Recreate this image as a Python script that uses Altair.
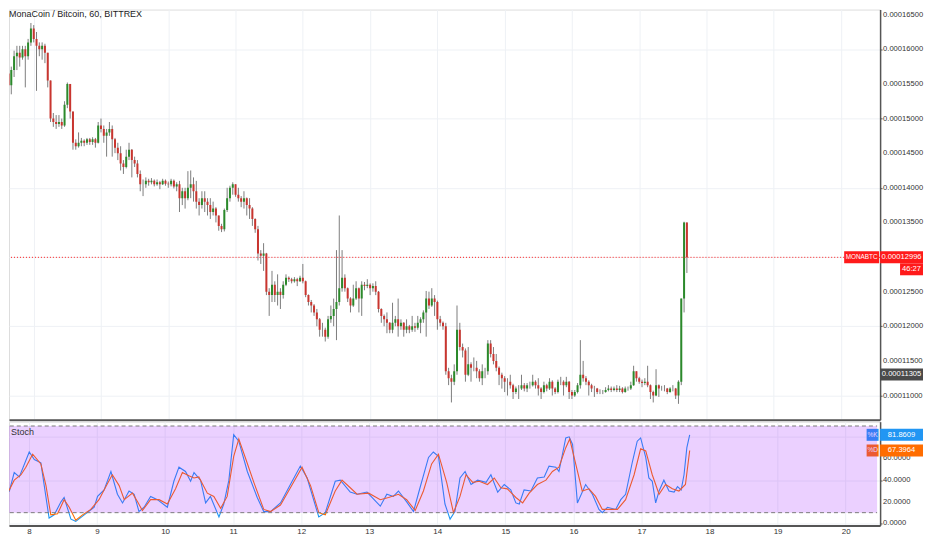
import altair as alt
import pandas as pd

# ---------------- data ----------------
TITLE = "MonaCoin / Bitcoin, 60, BITTREX"
first_hour = -9          # hours relative to day 8, 00:00
first_open = 15650       # satoshi
close = [
    15480, 15700, 15900, 15950, 15880, 16000, 15900, 16100, 16300,
    16150, 16050, 16000, 16050, 15950, 15550, 15000, 14950, 14920, 14950, 14900, 15200,
    15500, 15100, 14650, 14600, 14650, 14680, 14650, 14700, 14660, 14700, 14650, 14900,
    14850, 14750, 14800, 14850, 14700, 14580, 14500, 14350, 14300, 14450, 14550, 14400,
    14350, 14200, 14050, 14050, 14100, 14080, 14100, 14050, 14080, 14050, 14100, 14060,
    14050, 14100, 14020, 14050, 13850, 13950, 13850, 14000, 14050, 13950, 13800, 13750,
    13850, 13800, 13750, 13650, 13700, 13600, 13450, 13400, 13680, 13850, 14000, 14050,
    13900, 13850, 13800, 13850, 13750, 13700, 13550, 13400, 13050, 13020, 13050, 12500,
    12450, 12600, 12450, 12500, 12450, 12600, 12700, 12680, 12650, 12680, 12650, 12700,
    12650, 12450, 12350, 12300, 12200, 12100, 11950, 11950, 11850, 12100, 12150, 12250,
    12350, 12550, 12700, 12550, 12400, 12300, 12400, 12550, 12400, 12600, 12580, 12600,
    12550, 12580, 12500, 12250, 12150, 12100, 12050, 11950, 12050, 12100, 12000, 12050,
    11950, 12000, 11950, 12000, 11980, 12050, 12100, 12200, 12400, 12300, 12400, 12350,
    12100, 12050, 12000, 11350, 11250, 11200, 11350, 11950, 11700, 11650, 11300, 11450,
    11400, 11400, 11350, 11250, 11350, 11350, 11750, 11600, 11500, 11400, 11300, 11250,
    11200, 11200, 11150, 11050, 11100, 11100, 11150, 11100, 11150, 11150, 11200, 11150,
    11100, 11050, 11150, 11100, 11200, 11100, 11050, 11200, 11200, 11150, 11200, 11050,
    11000, 11050, 11150, 11300, 11250, 11200, 11150, 11100, 11100, 11050, 11050, 11050,
    11080, 11100, 11080, 11100, 11080, 11100, 11050, 11100, 11100, 11150, 11350, 11250,
    11200, 11180, 11200, 11150, 11050, 11000, 11150, 11100, 11100, 11100, 11050, 11100,
    11100, 11000, 11200, 12400, 13500, 12996,
]
high = [
    15650, 15750, 15980, 16050, 16050, 16050, 16050, 16150, 16380,
    16350, 16250, 16100, 16100, 16080, 15950, 15550, 15080, 15050, 15050, 15000, 15250,
    15520, 15500, 15100, 14700, 14800, 14720, 14700, 14720, 14720, 14730, 14720, 14950,
    15000, 14900, 14850, 14950, 14900, 14720, 14650, 14600, 14400, 14550, 14650, 14560,
    14450, 14400, 14250, 14120, 14150, 14130, 14140, 14120, 14120, 14100, 14130, 14120,
    14090, 14130, 14120, 14080, 14100, 14000, 14000, 14240, 14250, 14150, 14100, 13850,
    13950, 13950, 13850, 13850, 13800, 13720, 13600, 13480, 13700, 14000, 14030, 14080,
    14050, 14000, 13880, 13950, 13860, 13850, 13720, 13560, 13450, 13100, 13200, 13060,
    12550, 12800, 12650, 12750, 12550, 12650, 12750, 12720, 12700, 12710, 12700, 12730,
    12900, 12660, 12460, 12380, 12320, 12250, 12120, 12050, 11980, 12150, 12300, 12400,
    13100, 13600, 13100, 12750, 12560, 12420, 12600, 12650, 12560, 12650, 12640, 12680,
    12620, 12620, 12650, 12510, 12260, 12170, 12200, 12060, 12340, 12150, 12400, 12100,
    12060, 12100, 12020, 12150, 12050, 12150, 12130, 12230, 12510, 12500, 12550, 12450,
    12370, 12150, 12070, 12050, 11400, 11300, 11450, 12300, 12050, 11750, 11680, 11700,
    11480, 11550, 11500, 11380, 11450, 11400, 11800, 11800, 11700, 11600, 11420, 11330,
    11280, 11250, 11300, 11170, 11130, 11150, 11300, 11180, 11180, 11200, 11300, 11220,
    11250, 11120, 11200, 11170, 11250, 11220, 11120, 11230, 11270, 11220, 11270, 11210,
    11080, 11080, 11180, 11800, 11500, 11280, 11220, 11170, 11140, 11110, 11090, 11080,
    11120, 11150, 11130, 11130, 11150, 11140, 11120, 11130, 11130, 11200, 11430, 11350,
    11270, 11230, 11250, 11430, 11160, 11070, 11380, 11160, 11140, 11150, 11110, 11120,
    11150, 11110, 11220, 12400, 13510, 13500,
]
low = [
    15380, 15350, 15600, 15700, 15750, 15850, 15450, 15850, 16050,
    16100, 15400, 15900, 15850, 15800, 15450, 14950, 14880, 14850, 14880, 14850, 14880,
    15150, 15000, 14550, 14550, 14580, 14600, 14600, 14620, 14620, 14620, 14580, 14640,
    14800, 14650, 14450, 14750, 14450, 14500, 14400, 14250, 14200, 14280, 14400, 14150,
    14300, 14150, 13950, 13880, 14000, 14030, 14050, 14020, 14030, 13980, 14040, 14030,
    14000, 14020, 13990, 13950, 13650, 13750, 13700, 13820, 13850, 13800, 13700, 13600,
    13700, 13650, 13600, 13550, 13600, 13500, 13380, 13360, 13370, 13650, 13800, 13900,
    13870, 13800, 13720, 13700, 13600, 13550, 13450, 13350, 12950, 12900, 12800, 12450,
    12150, 12350, 12350, 12300, 12250, 12400, 12580, 12640, 12620, 12630, 12580, 12640,
    12620, 12420, 12300, 12200, 12150, 12000, 11850, 11850, 11780, 11820, 12050, 12000,
    11800, 12300, 12500, 12500, 12350, 12200, 12280, 12380, 12200, 12150, 12520, 12550,
    12450, 12500, 12450, 12200, 12050, 12000, 11900, 11900, 11900, 12000, 11850, 11950,
    11850, 11900, 11900, 11920, 11920, 11950, 11900, 12050, 11850, 12250, 12280, 12150,
    11950, 12000, 11950, 11300, 11150, 10900, 11150, 11300, 11650, 11550, 11200, 11280,
    11200, 11350, 11250, 11200, 11150, 11250, 11300, 11550, 11450, 11350, 11150, 11100,
    11050, 11000, 11100, 10950, 11020, 10950, 11080, 11060, 11050, 11100, 11130, 11100,
    11000, 10950, 11030, 11060, 11080, 11000, 11020, 11030, 11150, 11000, 11120, 10950,
    10950, 10980, 11030, 11100, 11200, 11150, 11000, 11050, 10980, 11020, 11020, 11020,
    11040, 11060, 11050, 11060, 11050, 11050, 11030, 11040, 11070, 11080, 11140, 11200,
    11170, 11120, 11150, 11120, 10950, 10900, 10990, 10980, 11070, 11060, 11020, 11040,
    11060, 10950, 10880, 11150, 12200, 12770,
]
last_price = 12996
marker_price = 11305
countdown = "46:27"

# stochastic (hours relative to day 8 00:00, values)
k_hours = [-9.85, -8.7, -6.9, -5.2, -3.4, 0.1, 1.9, 4.2, 7.1, 8.9, 11.3, 12.4, 14.8, 16.5, 19.5,
           23.0, 24.2, 26.5, 28.9, 31.2, 33.0, 35.3, 37.1, 38.8, 40.6, 42.9, 45.3, 48.8, 51.1, 52.9,
           55.2, 57.0, 58.2, 60.5, 62.3, 64.0, 67.0, 68.7, 70.5, 72.2, 74.0, 77.0, 80.5, 82.8, 85.2,
           88.7, 92.2, 95.7, 98.1, 102.2, 104.5, 108.0, 109.8, 113.3, 115.7, 119.2, 123.9, 126.2,
           128.5, 130.3, 133.2, 135.6, 137.9, 140.9, 142.6, 144.4, 146.7, 148.5, 150.2, 152.0,
           153.8, 155.9, 158.2, 161.2, 162.9, 165.3, 167.6, 169.9, 171.7, 172.9, 174.6, 177.0,
           179.3, 181.7, 183.4, 185.8, 186.9, 189.3, 190.5, 191.7, 193.4, 196.3, 198.7, 201.0,
           202.2, 204.0, 206.9, 208.7, 210.4, 212.8, 214.5, 215.7, 217.5, 218.6, 219.8, 221.0,
           222.2, 223.9, 225.7, 227.5, 228.7, 230.0, 231.0, 232.0, 233.0]
k_vals = [54, 25, 30, 47, 43, 66, 59, 56, 5, 8, 20, 24, 4, 2, 8,
          15, 25, 31, 48, 27, 19, 30, 27, 11, 15, 25, 22, 15, 39, 52,
          48, 39, 47, 40, 19, 25, 6, 18, 40, 82, 76, 48, 24, 11, 11,
          19, 36, 53, 42, 6, 10, 39, 40, 29, 27, 29, 16, 27,
          25, 30, 20, 11, 33, 61, 66, 62, 18, 4, 11, 42,
          48, 36, 40, 38, 45, 29, 36, 31, 19, 18, 31, 30,
          42, 43, 53, 52, 48, 79, 80, 73, 19, 36, 27, 13,
          10, 15, 13, 22, 27, 57, 76, 79, 61, 42, 39, 19,
          30, 40, 30, 29, 34, 31, 45, 70, 81.8609]
d_hours = [-9.85, -7.5, -5.2, -2.8, -1.1, 1.3, 4.2, 6.0, 7.7, 10.1, 12.4, 14.2, 16.5, 18.9, 21.8,
           24.7, 27.7, 29.4, 31.8, 33.6, 36.5, 38.3, 40.0, 42.9, 45.9, 48.8, 51.7, 54.1, 56.4, 58.2,
           59.9, 62.9, 65.2, 67.6, 69.9, 72.2, 74.0, 76.4, 79.3, 82.8, 85.2, 88.7, 92.2, 96.3, 99.3,
           102.2, 104.5, 108.0, 110.4, 113.3, 115.7, 119.8, 123.9, 126.8, 130.3, 133.2, 136.2,
           139.1, 142.0, 144.4, 147.3, 149.7, 152.0, 154.1, 156.5, 158.8, 161.7, 164.1, 166.4,
           168.7, 171.7, 174.1, 176.4, 179.3, 182.3, 184.6, 186.9, 189.3, 190.7, 192.8, 195.1,
           197.5, 199.8, 202.2, 204.6, 207.5, 210.4, 213.4, 215.7, 217.5, 219.8, 222.2, 224.5,
           226.9, 229.2, 231.5, 233.0]
d_vals = [50, 28, 40, 45, 52, 64, 55, 35, 8, 9, 22, 15, 3, 8, 13,
          22, 37, 45, 35, 22, 28, 20, 12, 22, 22, 18, 32, 47, 44, 42,
          43, 28, 25, 14, 25, 62, 78, 60, 38, 13, 11, 17, 33, 52, 35,
          10, 8, 30, 40, 33, 27, 28, 22, 24, 27, 22, 12,
          30, 55, 64, 38, 10, 25, 45, 38, 39, 36, 42, 33,
          32, 24, 19, 28, 36, 40, 48, 52, 70, 78, 55, 30,
          32, 25, 13, 13, 13, 22, 45, 69, 67, 45, 27, 36,
          32, 30, 36, 67.3964]

day_ticks = list(range(8, 21))
price_ticks = [11000 + 500 * i for i in range(12)]
price_hidden = [13000]        # label covered by the last-price tag
stoch_ticks = [0, 20, 40, 60, 80]
stoch_hidden = [80]           # label covered by the %K tag
band_low, band_high = 10, 90

# ---------------- build tables ----------------
SAT = 1e-8
hours = list(range(first_hour, first_hour + len(close)))
opens = [first_open] + close[:-1]
df = pd.DataFrame({
    "t": [8 + h / 24 for h in hours],
    "o": [v * SAT for v in opens],
    "c": [v * SAT for v in close],
    "hi": [max(h_, o, c) * SAT for h_, o, c in zip(high, opens, close)],
    "lo": [min(l_, o, c) * SAT for l_, o, c in zip(low, opens, close)],
    "dir": ["up" if c >= o else "down" for o, c in zip(opens, close)],
})
kdf = pd.DataFrame({"t": [8 + h / 24 for h in k_hours], "v": k_vals})
ddf = pd.DataFrame({"t": [8 + h / 24 for h in d_hours], "v": d_vals})
shown_p = [v for v in price_ticks if v not in price_hidden]
ptick_df = pd.DataFrame({"p": [v * SAT for v in shown_p],
                         "txt": [f"{v * SAT:.8f}" for v in shown_p]})
shown_s = [v for v in stoch_ticks if v not in stoch_hidden]
stick_df = pd.DataFrame({"v": shown_s, "txt": [f"{v:.4f}" for v in shown_s]})

FONT = "Liberation Sans, Arial, sans-serif"
LBL = 7.6
W = 873
H_MAIN = 411
H_ST = 104
X_DOM = [7.7067, 20.5060]
BAND_END = 20.462
xs = alt.Scale(domain=X_DOM, nice=False, zero=False)
ys = alt.Scale(domain=[0.000106512, 0.000165737], nice=False, zero=False)
ss = alt.Scale(domain=[-1.8, 94.0], nice=False, zero=False)
GRID = "#eef1f5"
AXC = "#555555"
TXT = "#333333"
UP, DOWN = "#2b8a2b", "#c9352f"
KC, DC = "#2196f3", "#ff6d00"
RED = "#ff1a1a"

x_main_axis = alt.Axis(values=day_ticks, grid=True, gridColor=GRID, labels=False, ticks=False,
                       domain=True, domainColor=AXC, domainWidth=2, title=None)
y_main_axis = alt.Axis(orient="right", values=[p * SAT for p in price_ticks], labels=False,
                       grid=True, gridColor=GRID, tickColor=AXC, tickSize=2,
                       domainColor=AXC, domainWidth=1.5, title=None)

base = alt.Chart(df)
wicks = base.mark_rule(color="#7d7d7d", strokeWidth=1, clip=True).encode(
    x=alt.X("t:Q", scale=xs, axis=x_main_axis),
    y=alt.Y("lo:Q", scale=ys, axis=y_main_axis),
    y2="hi:Q",
)
bodies_up = base.transform_filter(alt.datum.dir == "up").mark_bar(width=2, clip=True, color=UP).encode(
    x=alt.X("t:Q", scale=xs), y=alt.Y("o:Q", scale=ys), y2="c:Q")
bodies_dn = base.transform_filter(alt.datum.dir == "down").mark_bar(width=2, clip=True, color=DOWN).encode(
    x=alt.X("t:Q", scale=xs), y=alt.Y("o:Q", scale=ys), y2="c:Q")

lp = pd.DataFrame({"p": [last_price * SAT], "txt": [f"{last_price * SAT:.8f}"], "name": ["MONABTC"], "cd": [countdown]})
mp = pd.DataFrame({"p": [marker_price * SAT], "txt": [f"{marker_price * SAT:.8f}"]})


def box(data, field, scale, xc, w, color, y_off=0):
    return alt.Chart(data).mark_tick(orient="horizontal", size=w, thickness=12, color=color,
                                     opacity=1, yOffset=y_off).encode(
        x=alt.value(xc), y=alt.Y(f"{field}:Q", scale=scale))


def label(data, field, scale, xc, text, size=LBL, y_off=0):
    return alt.Chart(data).mark_text(color="white", font=FONT, fontSize=size, yOffset=y_off).encode(
        x=alt.value(xc), y=alt.Y(f"{field}:Q", scale=scale), text=f"{text}:N")


def tick_labels(data, field, scale):
    return alt.Chart(data).mark_text(align="left", baseline="middle", font=FONT, fontSize=LBL,
                                     color=TXT).encode(
        x=alt.value(W + 3), y=alt.Y(f"{field}:Q", scale=scale), text="txt:N")


price_line = alt.Chart(lp).mark_rule(color=RED, strokeDash=[1, 2], strokeWidth=1).encode(
    y=alt.Y("p:Q", scale=ys))
title = alt.Chart(pd.DataFrame({"txt": [TITLE]})).mark_text(
    align="left", baseline="top", font=FONT, fontSize=9, color="#222222").encode(
    x=alt.value(0), y=alt.value(0), text="txt:N")

RB = W + 21.5   # centre of the boxes on the price scale
main = alt.layer(
    wicks, bodies_up, bodies_dn, price_line, tick_labels(ptick_df, "p", ys),
    box(lp, "p", ys, W - 18.5, 35, RED), label(lp, "p", ys, W - 18.5, "name", size=6.4),
    box(lp, "p", ys, RB, 43, RED), label(lp, "p", ys, RB, "txt"),
    box(lp, "p", ys, W + 31.5, 23, RED, 12), label(lp, "p", ys, W + 31.5, "cd", y_off=12),
    box(mp, "p", ys, RB, 43, "#4a4a4a"), label(mp, "p", ys, RB, "txt"),
    title,
).properties(width=W, height=H_MAIN)

# ---------------- stochastic panel ----------------
x_st_axis = alt.Axis(values=day_ticks, format="d", grid=True, gridColor=GRID, ticks=False,
                     domain=True, domainColor=AXC, domainWidth=2, labelFont=FONT, labelFontSize=8,
                     labelColor=TXT, labelPadding=2, labelOverlap=False, title=None)
y_st_axis = alt.Axis(orient="right", values=stoch_ticks, labels=False, grid=True, gridColor=GRID,
                     tickColor=AXC, tickSize=2, domainColor=AXC, domainWidth=1.5, title=None)

k_line = alt.Chart(kdf).mark_line(strokeWidth=1.1, clip=True, color=KC).encode(
    x=alt.X("t:Q", scale=xs, axis=x_st_axis),
    y=alt.Y("v:Q", scale=ss, axis=y_st_axis),
)
d_line = alt.Chart(ddf).mark_line(strokeWidth=1.1, clip=True, color=DC).encode(
    x=alt.X("t:Q", scale=xs), y=alt.Y("v:Q", scale=ss))

last_k = k_vals[-1]
last_d = d_vals[-1]
kl = pd.DataFrame({"v": [last_k], "s": ["%K"], "txt": [f"{last_k:.4f}"]})
dl = pd.DataFrame({"v": [last_d], "s": ["%D"], "txt": [f"{last_d:.4f}"]})

band_df = pd.DataFrame({"x1": [7.0], "x2": [BAND_END], "y1": [band_low], "y2": [band_high]})
band = alt.Chart(band_df).mark_rect(color="#9915ff", opacity=0.2, clip=True).encode(
    x=alt.X("x1:Q", scale=xs), x2="x2:Q", y=alt.Y("y1:Q", scale=ss), y2="y2:Q")
dash_df = pd.DataFrame({"x1": [7.0, 7.0], "x2": [BAND_END, BAND_END], "y": [band_low, band_high]})
dashes = alt.Chart(dash_df).mark_rule(color="#7b7b7b", strokeDash=[4, 3], strokeWidth=1, clip=True).encode(
    x=alt.X("x1:Q", scale=xs), x2="x2:Q", y=alt.Y("y:Q", scale=ss))
stoch_lbl = alt.Chart(pd.DataFrame({"txt": ["Stoch"]})).mark_text(
    align="left", baseline="middle", font=FONT, fontSize=9, color=TXT).encode(
    x=alt.value(2), y=alt.value(10), text="txt:N")

SB = W - 7.5   # centre of the small %K / %D tags
stoch = alt.layer(
    k_line, d_line,
    box(kl, "v", ss, SB, 12, KC), label(kl, "v", ss, SB, "s", size=6.5),
    box(dl, "v", ss, SB, 12, DC), label(dl, "v", ss, SB, "s", size=6.5),
    band, dashes, tick_labels(stick_df, "v", ss),
    box(kl, "v", ss, RB, 43, KC), label(kl, "v", ss, RB, "txt"),
    box(dl, "v", ss, RB, 43, DC), label(dl, "v", ss, RB, "txt"),
    stoch_lbl,
).properties(width=W, height=H_ST)

chart = alt.vconcat(main, stoch, spacing=0).properties(
    padding={"left": 0, "top": 0, "right": 0, "bottom": 0}
).configure_view(stroke=None).configure(background="white")

chart.save("out.html", embed_options={"renderer": "svg", "actions": False})
